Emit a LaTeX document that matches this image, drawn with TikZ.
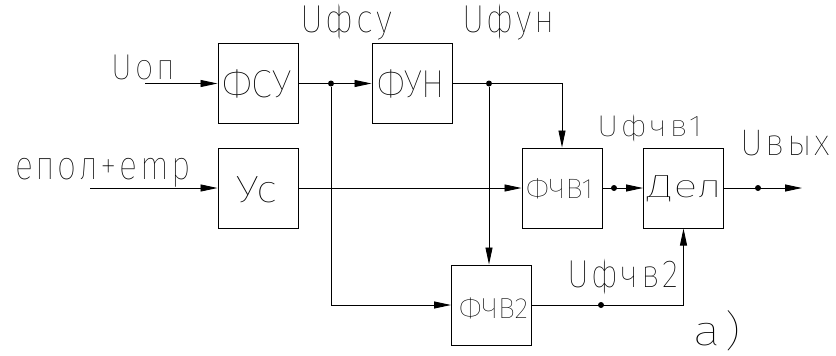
\documentclass[tikz,border=0pt]{standalone}
\usepackage{graphicx}
\usepackage{fontspec}
\setmainfont{Fira Sans Thin}
\newfontfamily\spc{Fira Sans Thin}[LetterSpace=8]
\usetikzlibrary{arrows.meta}
\tikzset{
 blk/.style={draw, line width=1pt, minimum width=80pt, minimum height=80pt, inner sep=0pt},
 wire/.style={line width=0.9pt},
 arr/.style={wire, -{Triangle[length=17pt,width=7pt]}},
 jdot/.style={circle, fill, inner sep=0pt, minimum size=6pt},
 lbl/.style={anchor=base, inner sep=0pt},
}
% width, font size, text
\newcommand\rb[3]{\resizebox{#1pt}{\height}{\fontsize{#2pt}{#2pt}\selectfont #3}}
\newcommand\rl[3]{\resizebox{#1pt}{\height}{\spc\fontsize{#2pt}{#2pt}\selectfont #3}}
\begin{document}
\begin{tikzpicture}[x=1pt,y=-1pt]
\path[use as bounding box] (0,0) rectangle (836,356);
% blocks
\node[blk] (fsu) at (258,83.5) {};
\node[blk] (fun) at (412,83.5) {};
\node[blk] (us)  at (258,188) {};
\node[blk] (ch1) at (562,188) {};
\node[blk] (del) at (683.5,188) {};
\node[blk] (ch2) at (491.5,305) {};
\node[lbl] (fsut) at (256.5,97) {\rb{69}{39}{ФСУ}};
\node[lbl] (funt) at (411,97) {\rb{68}{39}{ФУН}};
\node[lbl] (ust)  at (256.5,202) {\rb{41}{38}{Ус}};
\node[lbl] (ch1t) at (559.5,198) {\rb{67}{28}{ФЧВ1}};
\node[lbl] (delt) at (684.5,197) {\rb{75}{32}{Дел}};
\node[lbl] (ch2t) at (493.5,318) {\rb{69}{29}{ФЧВ2}};
% junctions
\node[jdot] (d1) at (331,83.5) {};
\node[jdot] (d2) at (489,83.5) {};
\node[jdot] (d3) at (614,188) {};
\node[jdot] (d4) at (601,305) {};
\node[jdot] (d5) at (758,188) {};
\coordinate (in1) at (145,83.5);
\coordinate (in2) at (90,188);
\coordinate (out) at (802,188);
% connectors
\draw[arr] (in1) -- (fsu.west);
\draw[arr] (fsu.east) -- (fun.west);
\draw[arr] (fun.east) -| (ch1.north);
\draw[arr] (d2) -- (d2 |- ch2.north);
\draw[arr] (d1) |- (ch2.west);
\draw[arr] (in2) -- (us.west);
\draw[arr] (us.east) -- (ch1.west);
\draw[arr] (ch1.east) -- (del.west);
\draw[arr] (ch2.east) -| (del.south);
\draw[arr] (del.east) -- (out);
% labels
\node[lbl] (l1) at (143.5,79) {\rl{63}{36}{Uоп}};
\node[lbl] (l2) at (346,33) {\rl{92}{39}{Uфсу}};
\node[lbl] (l3) at (508.5,33) {\rl{93}{39}{Uфун}};
\node[lbl] (l4) at (649.5,136) {\rl{105}{30}{Uфчв1}};
\node[lbl] (l5) at (785,155) {\rl{90}{37}{Uвых}};
\node[lbl] (l6) at (103,179) {\rl{176}{40}{епол+emp}};
\node[lbl] (l7) at (622.5,287) {\rl{111}{39}{Uфчв2}};
\node[lbl] (l8) at (717,345) {\rl{48}{42}{а)}};
\end{tikzpicture}
\end{document}
